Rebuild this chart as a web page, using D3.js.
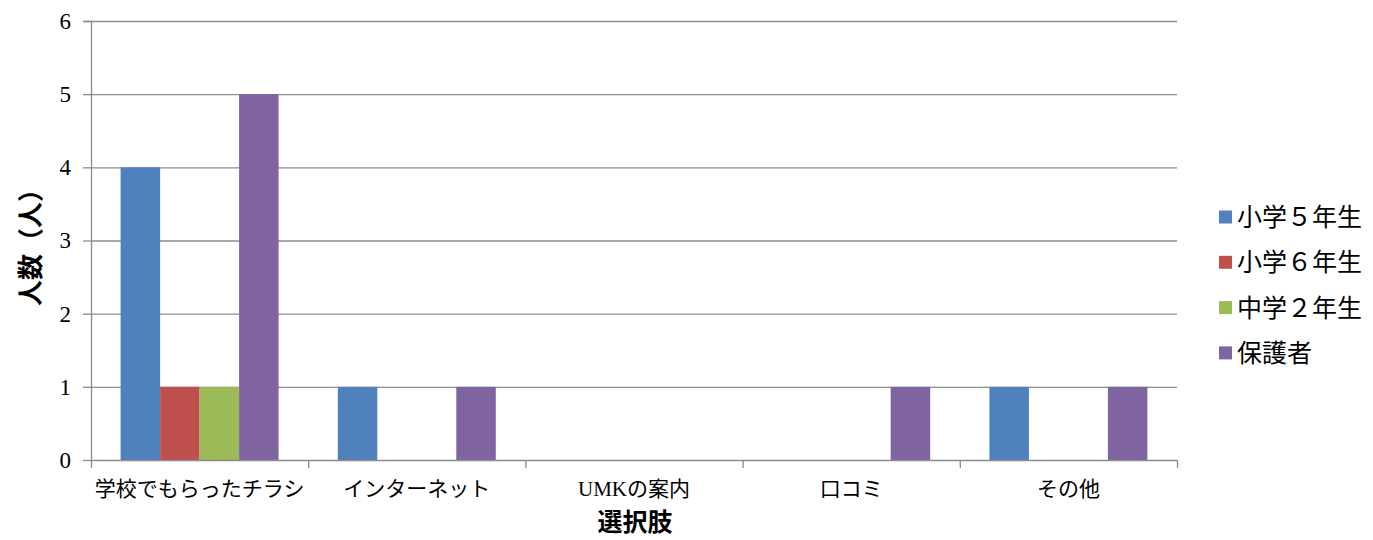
<!DOCTYPE html>
<html><head><meta charset="utf-8">
<script src="https://cdn.jsdelivr.net/npm/d3@7"></script>
<style>body{margin:0;background:#fff}</style>
</head><body>
<svg id="c" width="1373" height="540"></svg>
<script>
const categories = ["学校でもらったチラシ","インターネット","UMKの案内","口コミ","その他"];
const seriesNames = ["小学５年生","小学６年生","中学２年生","保護者"];
const s5 = [4,1,0,0,1];
const s6 = [1,0,0,0,0];
const j2 = [1,0,0,0,0];
const parents = [5,1,0,1,1];
const seriesValues = [s5,s6,j2,parents];
const colors = ["#4F81BD","#C0504D","#9BBB59","#8064A2"];
const yTicks = [0,1,2,3,4,5,6];

const serif = "'Liberation Serif','Noto Sans CJK JP',serif";
const sans = "'Noto Sans CJK JP',sans-serif";
const svg = d3.select("#c");
const L=91,R=1177,T=21,B=460;
const x = d3.scaleBand().domain(categories).range([L,R]).paddingInner(0).paddingOuter(0);
const x1 = d3.scaleBand().domain(d3.range(4)).range([0,x.bandwidth()]).paddingOuter(0.75).paddingInner(0);
const y = d3.scaleLinear().domain([0,6]).range([B,T]);

// gridlines
svg.append("g").selectAll("line").data(yTicks.filter(d=>d>0)).join("line")
  .attr("x1",L).attr("x2",R).attr("y1",d=>y(d)+0.5).attr("y2",d=>y(d)+0.5)
  .attr("stroke","#8c8c8c").attr("stroke-width",1.3);

// bars
categories.forEach((c,ci)=>{
  seriesValues.forEach((vals,si)=>{
    const v=vals[ci]; if(!v) return;
    svg.append("rect").attr("x",x(c)+x1(si)).attr("width",x1.bandwidth())
      .attr("y",y(v)).attr("height",y(0)-y(v)).attr("fill",colors[si]);
  });
});

// y axis
const ya = svg.append("g").attr("transform",`translate(${L},0)`)
  .call(d3.axisLeft(y).tickValues(yTicks).tickSize(8).tickPadding(12).tickFormat(d3.format("d")));
ya.select(".domain").attr("stroke","#8c8c8c").attr("stroke-width",1.3).attr("d",`M-8,${T+0.5}H0.5V${B+0.5}`);
ya.selectAll(".tick line").attr("stroke","#8c8c8c").attr("stroke-width",1.3);
ya.selectAll(".tick text").attr("font-family",serif).attr("font-size",23).attr("fill","#000");

// x axis
const xa = svg.append("g").attr("transform",`translate(0,${B})`);
xa.append("line").attr("x1",L).attr("x2",R).attr("y1",0.5).attr("y2",0.5).attr("stroke","#8c8c8c").attr("stroke-width",1.3);
const bounds = categories.map(c=>x(c)).concat([R]);
xa.selectAll("line.t").data(bounds).join("line").attr("class","t")
  .attr("x1",d=>d+0.5).attr("x2",d=>d+0.5).attr("y1",0).attr("y2",8)
  .attr("stroke","#8c8c8c").attr("stroke-width",1.3);
xa.selectAll("text").data(categories).join("text")
  .attr("x",d=>x(d)+x.bandwidth()/2).attr("y",36).attr("text-anchor","middle")
  .attr("font-family",serif).attr("font-size",21).attr("fill","#000").text(d=>d);

// axis titles
svg.append("text").attr("transform","translate(40,241) rotate(-90)").attr("text-anchor","middle")
  .attr("font-family",sans).attr("font-size",26).attr("font-weight","bold").attr("fill","#000").text("人数（人）");
svg.append("text").attr("x",635).attr("y",531).attr("text-anchor","middle")
  .attr("font-family",sans).attr("font-size",25).attr("font-weight","bold").attr("fill","#000").text("選択肢");

// legend
const lg = svg.append("g");
seriesNames.forEach((n,i)=>{
  const yy = 217 + i*45.3;
  lg.append("rect").attr("x",1219).attr("y",yy-6.5).attr("width",13).attr("height",13).attr("fill",colors[i]);
  lg.append("text").attr("x",1237).attr("y",yy+9).attr("font-family",serif).attr("font-size",25).attr("fill","#000").text(n);
});
</script>
</body></html>
